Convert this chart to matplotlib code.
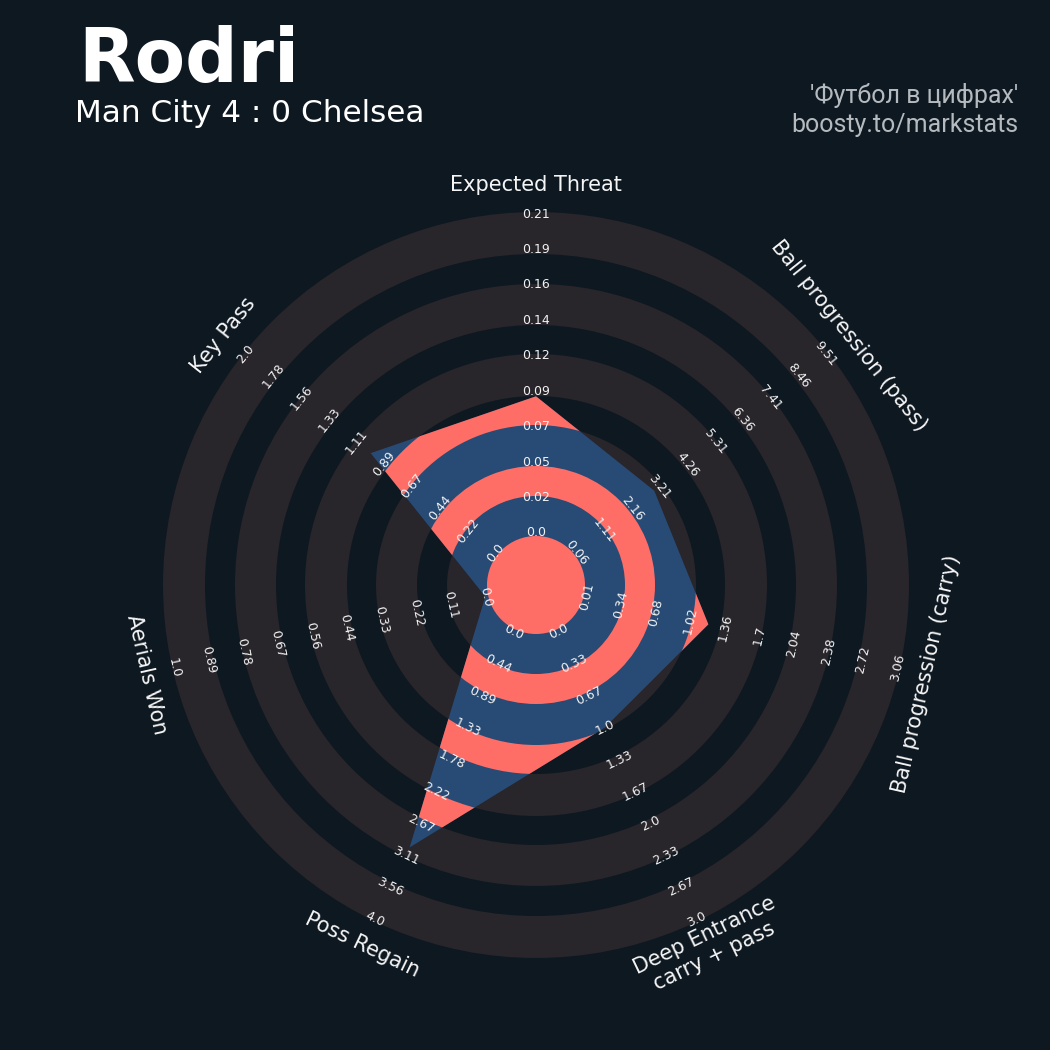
import numpy as np
import matplotlib
matplotlib.use("Agg")
import matplotlib.pyplot as plt
from matplotlib.patches import Wedge, Polygon, Circle

params = ["Expected Threat", "Ball progression (pass)", "Ball progression (carry)",
          "Deep Entrance\ncarry + pass", "Poss Regain", "Aerials Won", "Key Pass"]
low = [0.0, 0.06, 0.005, 0.0, 0.0, 0.0, 0.0]
high = [0.21, 9.51, 3.06, 3.0, 4.0, 1.0, 2.0]
values = [0.09, 3.0, 1.2, 1.0, 3.0, 0.0, 1.0]
range_labels = [
    ["0.0", "0.02", "0.05", "0.07", "0.09", "0.12", "0.14", "0.16", "0.19", "0.21"],
    ["0.06", "1.11", "2.16", "3.21", "4.26", "5.31", "6.36", "7.41", "8.46", "9.51"],
    ["0.01", "0.34", "0.68", "1.02", "1.36", "1.7", "2.04", "2.38", "2.72", "3.06"],
    ["0.0", "0.33", "0.67", "1.0", "1.33", "1.67", "2.0", "2.33", "2.67", "3.0"],
    ["0.0", "0.44", "0.89", "1.33", "1.78", "2.22", "2.67", "3.11", "3.56", "4.0"],
    ["0.0", "0.11", "0.22", "0.33", "0.44", "0.56", "0.67", "0.78", "0.89", "1.0"],
    ["0.0", "0.22", "0.44", "0.67", "0.89", "1.11", "1.33", "1.56", "1.78", "2.0"],
]

bg = "#0e1821"
ring_gray = "#28252b"
blue = "#274b75"
salmon = "#ff6e66"

# radial layout (axes units = pixels from the centre)
r0, r_span = 52, 319
center_r = 49
gray_bands = [(49, 89), (119, 160), (189, 231), (260, 301), (331, 373)]
dark_bands = [(89, 119), (160, 189), (231, 260), (301, 331)]
label_r = 400

fig = plt.figure(figsize=(10.5, 10.5), dpi=100, facecolor=bg)
ax = fig.add_axes([0, 0, 1, 1])
ax.set_facecolor(bg)
ax.set_xlim(-536, 514)
ax.set_ylim(-465, 585)
ax.set_aspect("equal")
ax.axis("off")

n = len(params)
angles = np.deg2rad(90 - np.arange(n) * 360 / n)

for a, b in gray_bands:
    ax.add_patch(Wedge((0, 0), b, 0, 360, width=b - a, facecolor=ring_gray, edgecolor="none", zorder=1))

frac = [(v - lo) / (hi - lo) for v, lo, hi in zip(values, low, high)]
rad = r0 + r_span * np.array(frac)
verts = np.column_stack([rad * np.cos(angles), rad * np.sin(angles)])
poly = Polygon(verts, closed=True, facecolor=blue, edgecolor="none", zorder=2)
ax.add_patch(poly)

for a, b in dark_bands:
    w = Wedge((0, 0), b, 0, 360, width=b - a, facecolor=salmon, edgecolor="none", zorder=3)
    ax.add_patch(w)
    w.set_clip_path(poly)

ax.add_patch(Circle((0, 0), center_r, facecolor=salmon, edgecolor="none", zorder=4))

for i, ang in enumerate(angles):
    deg = np.rad2deg(ang) % 360
    rot = deg - 90 if deg <= 180 else deg + 90
    for k, lab in enumerate(range_labels[i]):
        r = r0 + r_span * k / 9
        ax.text(r * np.cos(ang), r * np.sin(ang), lab, rotation=rot, rotation_mode="anchor",
                ha="center", va="center", fontsize=9, color="#f2f2f2", zorder=5)
    ax.text(label_r * np.cos(ang), label_r * np.sin(ang), params[i], rotation=rot,
            rotation_mode="anchor", ha="center", va="center", multialignment="center",
            fontsize=15, color="#f5f5f5", zorder=5)

fig.text(0.0743, 0.922, "Rodri", fontsize=53, fontweight="bold", color="white", va="baseline")
fig.text(0.0714, 0.884, "Man City 4 : 0 Chelsea", fontsize=22.4, color="white", va="baseline")
fig.text(0.9695, 0.9016, "'Футбол в цифрах'", fontsize=18, family="Roboto", color="#b5babe",
         ha="right", va="baseline")
fig.text(0.9695, 0.8746, "boosty.to/markstats", fontsize=18, family="Roboto", color="#b5babe",
         ha="right", va="baseline")

fig.savefig("out.png", dpi=100, facecolor=bg)
